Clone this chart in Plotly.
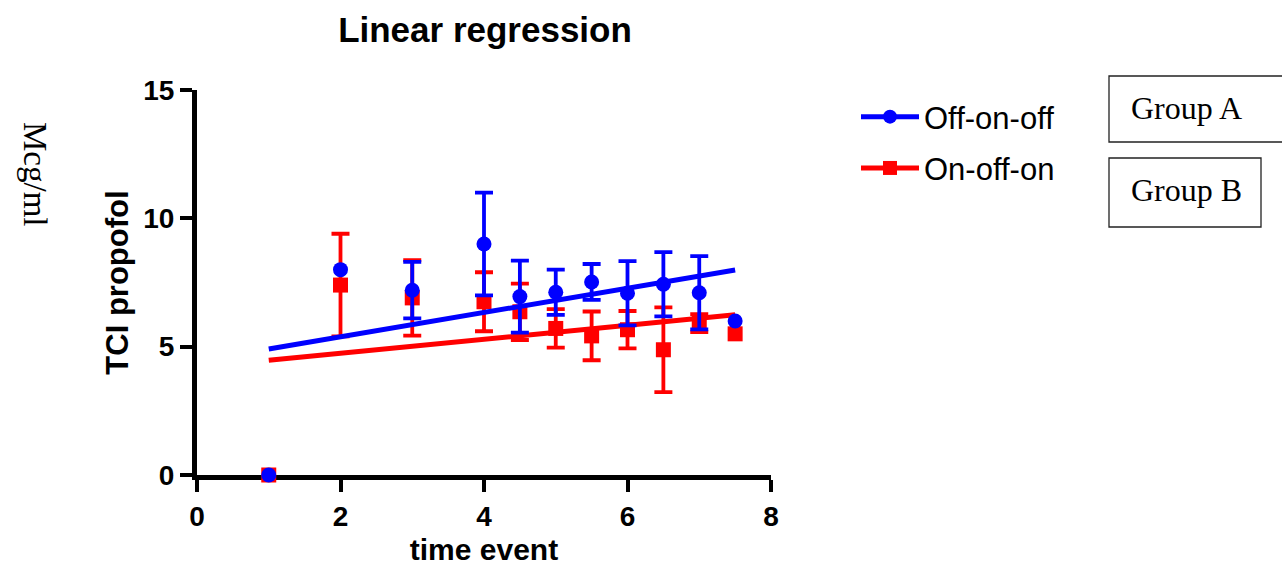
import numpy as np
import plotly.graph_objects as go

# ---- data ----
time_event = [1, 2, 3, 4, 4.5, 5, 5.5, 6, 6.5, 7, 7.5]
off_on_off = [0, 8.0, 7.2, 9.0, 6.95, 7.12, 7.52, 7.08, 7.43, 7.1, 6.0]
off_on_off_err = [np.nan, np.nan, 1.1, 2.0, 1.4, 0.88, 0.7, 1.25, 1.25, 1.43, np.nan]
on_off_on = [0, 7.4, 6.9, 6.75, 6.36, 5.71, 5.42, 5.66, 4.88, 5.92, 5.5]
on_off_on_err = [np.nan, 2.0, 1.47, 1.15, 1.1, 0.75, 0.95, 0.73, 1.65, 0.35, np.nan]

fit_x = [1, 7.5]
fit_off_on_off = [4.91, 7.99]
fit_on_off_on = [4.47, 6.24]

x_ticks = [0, 2, 4, 6, 8]
y_ticks = [0, 5, 10, 15]

BLUE = "#0000FF"
RED = "#FF0000"
W, H = 1282, 566
L, R, T, B = 197, 771, 90, 475


def px(x):
    return (x - L) / (R - L)


def py(y):
    return (B - y) / (B - T)


fig = go.Figure()

# regression lines + data (red first, blue on top)
fig.add_trace(go.Scatter(x=fit_x, y=fit_on_off_on, mode="lines",
                         line=dict(color=RED, width=5), showlegend=False))
fig.add_trace(go.Scatter(
    x=time_event, y=on_off_on, mode="markers", cliponaxis=False,
    marker=dict(symbol="square", size=15, color=RED),
    error_y=dict(type="data", array=np.array(on_off_on_err, dtype=float),
                 color=RED, thickness=3.8, width=9),
    showlegend=False))
fig.add_trace(go.Scatter(x=fit_x, y=fit_off_on_off, mode="lines",
                         line=dict(color=BLUE, width=5), showlegend=False))
fig.add_trace(go.Scatter(
    x=time_event, y=off_on_off, mode="markers", cliponaxis=False,
    marker=dict(symbol="circle", size=15, color=BLUE),
    error_y=dict(type="data", array=np.array(off_on_off_err, dtype=float),
                 color=BLUE, thickness=3.8, width=9),
    showlegend=False))

# legend entries
fig.add_trace(go.Scatter(x=[None], y=[None], mode="lines+markers", name="Off-on-off",
                         legendgroup="a",
                         line=dict(color=BLUE, width=5),
                         marker=dict(symbol="circle", size=14, color=BLUE)))
fig.add_trace(go.Scatter(x=[None], y=[None], mode="lines+markers", name="On-off-on",
                         legendgroup="b",
                         line=dict(color=RED, width=5),
                         marker=dict(symbol="square", size=14, color=RED)))

axis_common = dict(
    showline=True, linecolor="black", linewidth=5,
    ticks="outside", ticklen=12, tickwidth=4, tickcolor="black",
    showgrid=False, zeroline=False, automargin=False, layer="below traces",
    tickfont=dict(family="Liberation Sans, Arial, sans-serif", size=28, color="black", weight="bold"),
)

fig.update_xaxes(range=[0, 8], tickvals=x_ticks,
                 title=dict(text="time event", standoff=14,
                            font=dict(family="Liberation Sans, Arial, sans-serif", size=30,
                                      color="black", weight="bold")),
                 **axis_common)
fig.update_yaxes(range=[0, 15], tickvals=y_ticks,
                 title=dict(text="TCI propofol", standoff=7,
                            font=dict(family="Liberation Sans, Arial, sans-serif", size=31,
                                      color="black", weight="bold")),
                 **axis_common)

shapes = [
    dict(type="rect", xref="paper", yref="paper",
         x0=px(1109), x1=px(1295), y0=py(142), y1=py(76),
         line=dict(color="#222222", width=1.3)),
    dict(type="rect", xref="paper", yref="paper",
         x0=px(1109), x1=px(1261), y0=py(227), y1=py(158),
         line=dict(color="#222222", width=1.3)),
]

serif = "Liberation Serif, Times New Roman, serif"
annotations = [
    dict(text="Group A", xref="paper", yref="paper", x=px(1129), y=py(108),
         xanchor="left", yanchor="middle", showarrow=False,
         font=dict(family=serif, size=32, color="black")),
    dict(text="Group B", xref="paper", yref="paper", x=px(1129), y=py(190),
         xanchor="left", yanchor="middle", showarrow=False,
         font=dict(family=serif, size=32, color="black")),
    dict(text="Mcg/ml", xref="paper", yref="paper", x=px(35), y=py(174),
         xanchor="center", yanchor="middle", showarrow=False, textangle=90,
         font=dict(family=serif, size=33, color="black")),
]

fig.update_layout(
    width=W, height=H,
    margin=dict(l=L, r=W - R, t=T, b=H - B, pad=0),
    paper_bgcolor="white", plot_bgcolor="white",
    title=dict(text="Linear regression", x=485 / W, xanchor="center", xref="container",
               y=1 - 30 / H, yanchor="middle", yref="container",
               font=dict(family="Liberation Sans, Arial, sans-serif", size=35,
                         color="black", weight="bold")),
    legend=dict(x=px(856), y=py(90), xanchor="left", yanchor="top",
                itemwidth=58,
                font=dict(family="Liberation Sans, Arial, sans-serif", size=31, color="black"),
                tracegroupgap=8, traceorder="grouped", bgcolor="rgba(0,0,0,0)"),
    shapes=shapes, annotations=annotations,
)

fig.write_html("out.html")
